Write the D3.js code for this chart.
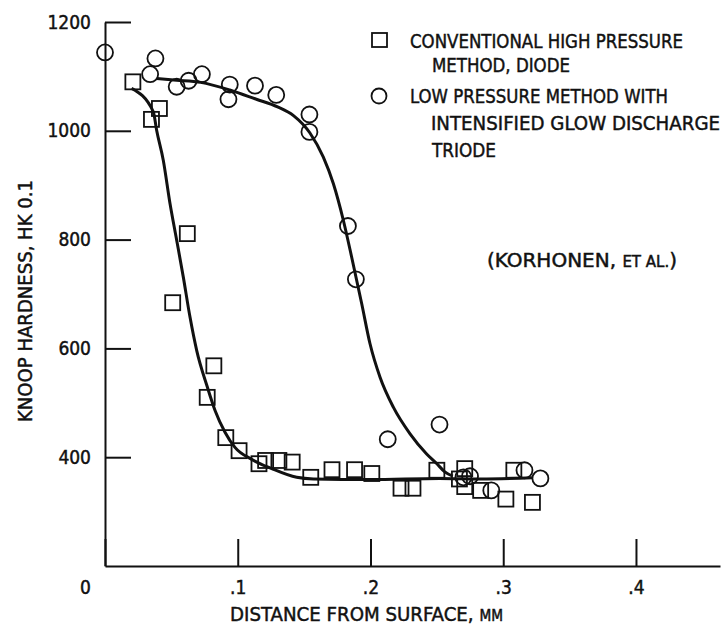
<!DOCTYPE html>
<html>
<head>
<meta charset="utf-8">
<script src="https://cdn.jsdelivr.net/npm/d3@7/dist/d3.min.js"></script>
<style>
  body { margin: 0; background: #fff; }
  svg { display: block; }
  text { font-family: "DejaVu Sans Condensed", "DejaVu Sans", sans-serif; fill: #111; stroke: #111; stroke-width: 0.45px; }
</style>
</head>
<body>
<svg id="chart"></svg>
<script>
// measured points, conventional high pressure (diode) - squares
const diodeX  = [0.021, 0.035, 0.041, 0.051, 0.062, 0.077, 0.082, 0.091, 0.101, 0.116, 0.121, 0.131, 0.141, 0.155, 0.171, 0.188, 0.201, 0.223, 0.232, 0.250, 0.267, 0.271, 0.271, 0.283, 0.302, 0.308, 0.322];
const diodeHK = [1090, 1021, 1041, 684, 811, 510, 568, 436, 412, 388, 394, 394, 391, 363, 377, 377, 370, 343, 343, 376, 360, 379, 346, 339, 323, 376, 317];

// measured points, low pressure intensified glow (triode) - circles
const triodeX  = [0.000, 0.034, 0.038, 0.054, 0.063, 0.073, 0.093, 0.094, 0.113, 0.129, 0.154, 0.154, 0.183, 0.189, 0.213, 0.252, 0.270, 0.275, 0.291, 0.316, 0.328];
const triodeHK = [1144, 1104, 1133, 1081, 1092, 1104, 1058, 1085, 1083, 1066, 1030, 998, 825, 727, 433, 460, 363, 365, 339, 376, 361];

// hand drawn fit curves
const diodeCurveX  = [0.020, 0.0364, 0.0389, 0.0439, 0.049, 0.054, 0.059, 0.064, 0.0691, 0.0771, 0.0829, 0.0904, 0.0979, 0.1105, 0.1256, 0.1444, 0.157, 0.200, 0.252, 0.283, 0.322];
const diodeCurveHK = [1078, 1035, 1001, 946, 866, 799, 731, 658, 596, 529, 486, 446, 418, 396, 379, 363, 360, 359, 361, 360, 362];
const triodeCurveX  = [0.039, 0.054, 0.072, 0.094, 0.114, 0.130, 0.142, 0.1544, 0.1644, 0.172, 0.1795, 0.1858, 0.1934, 0.1996, 0.2072, 0.2172, 0.2298, 0.2423, 0.250, 0.256, 0.262];
const triodeCurveHK = [1096, 1093, 1089, 1075, 1058, 1044, 1028, 996, 952, 903, 836, 768, 682, 609, 547, 492, 443, 406, 388, 373, 365];

const xTicks = [0, 0.1, 0.2, 0.3, 0.4];
const yTicks = [400, 600, 800, 1000, 1200];

const legendLines = [
  ["CONVENTIONAL HIGH PRESSURE", "METHOD, DIODE"],
  ["LOW PRESSURE METHOD WITH", "INTENSIFIED GLOW DISCHARGE", "TRIODE"]
];

const w = 725, h = 629;
const svg = d3.select('#chart').attr('width', w).attr('height', h);

const x = d3.scaleLinear().domain([0, 0.4633]).range([105, 720]);
const y = d3.scaleLinear().domain([200, 1200]).range([566, 22]);

// axes
const xAxis = d3.axisBottom(x)
  .tickValues(xTicks)
  .tickSizeInner(-27).tickSizeOuter(0).tickPadding(15)
  .tickFormat(d => d === 0 ? '0' : d3.format('.1f')(d).replace(/^0/, ''));
const gx = svg.append('g').attr('transform', 'translate(0,566)').call(xAxis);
gx.selectAll('text').style('font-size', '19px')
  .attr('x', d => d === 0 ? -20 : 0);

const yAxis = d3.axisLeft(y)
  .tickValues(yTicks)
  .tickSizeInner(-26).tickSizeOuter(0).tickPadding(14)
  .tickFormat(d3.format('d'));
const gy = svg.append('g').attr('transform', 'translate(105,0)').call(yAxis);
gy.selectAll('text').style('font-size', '19px');

svg.selectAll('.domain').attr('stroke', '#111').attr('stroke-width', 2);
svg.selectAll('.tick line').attr('stroke', '#111').attr('stroke-width', 2);

// axis titles
svg.append('text')
  .attr('x', 230).attr('y', 621)
  .attr('textLength', 273).attr('lengthAdjust', 'spacingAndGlyphs')
  .style('font-size', '20px')
  .text('DISTANCE FROM SURFACE, ')
  .append('tspan').style('font-size', '15px').text('MM');

svg.append('text')
  .attr('transform', 'translate(32,422) rotate(-90)')
  .attr('textLength', 242).attr('lengthAdjust', 'spacingAndGlyphs')
  .style('font-size', '20px')
  .text('KNOOP HARDNESS, HK 0.1');

// curves
const line = d3.line().x(d => x(d[0])).y(d => y(d[1])).curve(d3.curveMonotoneX);
svg.append('path')
  .datum(d3.zip(diodeCurveX, diodeCurveHK))
  .attr('d', line).attr('fill', 'none').attr('stroke', '#111').attr('stroke-width', 3);
svg.append('path')
  .datum(d3.zip(triodeCurveX, triodeCurveHK))
  .attr('d', line).attr('fill', 'none').attr('stroke', '#111').attr('stroke-width', 3);

// markers
const sq = 15;
svg.append('g').selectAll('rect')
  .data(d3.zip(diodeX, diodeHK))
  .join('rect')
  .attr('x', d => x(d[0]) - sq / 2)
  .attr('y', d => y(d[1]) - sq / 2)
  .attr('width', sq).attr('height', sq)
  .attr('fill', 'none').attr('stroke', '#111').attr('stroke-width', 1.8);

svg.append('g').selectAll('circle')
  .data(d3.zip(triodeX, triodeHK))
  .join('circle')
  .attr('cx', d => x(d[0]))
  .attr('cy', d => y(d[1]))
  .attr('r', 8)
  .attr('fill', 'none').attr('stroke', '#111').attr('stroke-width', 1.8);

// legend
const lg = svg.append('g');
lg.append('rect').attr('x', 372).attr('y', 33).attr('width', 15).attr('height', 14)
  .attr('fill', 'none').attr('stroke', '#111').attr('stroke-width', 1.8);
lg.append('circle').attr('cx', 379).attr('cy', 96).attr('r', 7.5)
  .attr('fill', 'none').attr('stroke', '#111').attr('stroke-width', 1.8);

const rows = [
  { t: legendLines[0][0], x: 410, y: 48, len: 273 },
  { t: legendLines[0][1], x: 432, y: 72, len: 138 },
  { t: legendLines[1][0], x: 410, y: 103, len: 258 },
  { t: legendLines[1][1], x: 431, y: 130, len: 289 },
  { t: legendLines[1][2], x: 432, y: 157, len: 64 }
];
lg.selectAll('text.row').data(rows).join('text')
  .attr('class', 'row')
  .attr('x', d => d.x).attr('y', d => d.y)
  .attr('textLength', d => d.len).attr('lengthAdjust', 'spacingAndGlyphs')
  .style('font-size', '20px')
  .text(d => d.t);

const src = svg.append('text')
  .attr('x', 487).attr('y', 267)
  .attr('textLength', 190).attr('lengthAdjust', 'spacingAndGlyphs')
  .style('font-size', '20px');
src.append('tspan').text('(KORHONEN, ');
src.append('tspan').style('font-size', '15px').text('ET AL.');
src.append('tspan').text(')');
</script>
</body>
</html>
